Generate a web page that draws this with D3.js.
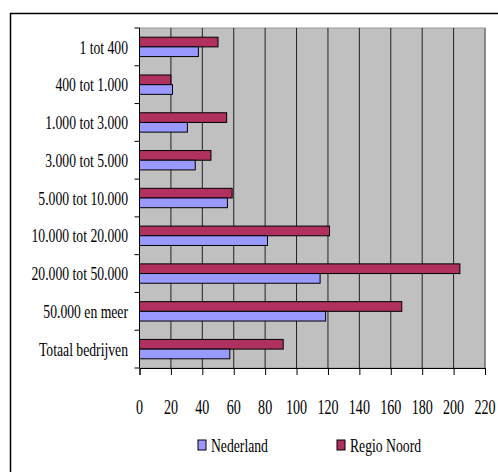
<!DOCTYPE html>
<html><head><meta charset="utf-8">
<script src="https://cdn.jsdelivr.net/npm/d3@7"></script>
<style>body{margin:0;background:#fff;overflow:hidden}svg{display:block}text{font-family:"Liberation Serif","Times New Roman",serif;fill:#000}</style>
</head><body>
<script>
const categories = ["1 tot 400","400 tot 1.000","1.000 tot 3.000","3.000 tot 5.000","5.000 tot 10.000","10.000 tot 20.000","20.000 tot 50.000","50.000 en meer","Totaal bedrijven"];
const seriesNames = ["Regio Noord","Nederland"];
const regioNoord = [50,20,55.5,45.5,59,121,204,167,91.5];
const nederland = [37.5,21,30.5,35.5,56,81.5,115,118.5,57.5];
const xTicks = [0,20,40,60,80,100,120,140,160,180,200,220];
const colors = {"Nederland":"#9999FF","Regio Noord":"#B03060"};

const W=498,H=472;
const svg=d3.select("body").append("svg").attr("width",W).attr("height",H);
// outer frame
svg.append("rect").attr("x",10.5).attr("y",13.5).attr("width",W).attr("height",H).attr("fill","#fff").attr("stroke","#000").attr("stroke-width",1.5);

const L=139.5,R=485,T=28,B=368;
const x=d3.scaleLinear().domain([0,220]).range([L,R]);
const y=d3.scaleBand().domain(categories).range([T,B]);
const sub=d3.scaleBand().domain(seriesNames).range([0,y.bandwidth()]).paddingOuter(0.95).paddingInner(0);

svg.append("rect").attr("x",L).attr("y",T).attr("width",R-L).attr("height",B-T).attr("fill","#C0C0C0").attr("stroke","#999").attr("stroke-width",1);
// gridlines
svg.append("g").selectAll("line").data(xTicks.slice(1,-1)).join("line")
  .attr("x1",d=>x(d)).attr("x2",d=>x(d)).attr("y1",T).attr("y2",B).attr("stroke","#222").attr("stroke-width",1);
svg.append("line").attr("x1",R).attr("x2",R).attr("y1",T).attr("y2",B).attr("stroke","#777").attr("stroke-width",1.5);

const data=[["Regio Noord",regioNoord],["Nederland",nederland]];
data.forEach(([name,vals])=>{
  svg.append("g").selectAll("rect").data(categories).join("rect")
    .attr("x",L).attr("y",(c)=>y(c)+sub(name))
    .attr("width",(c,i)=>x(vals[i])-L).attr("height",sub.bandwidth())
    .attr("fill",colors[name]).attr("stroke","#000").attr("stroke-width",1);
});

const xAxis=d3.axisBottom(x).tickValues(xTicks).tickSize(7).tickFormat("");
const gx=svg.append("g").attr("transform",`translate(0,${B})`).call(xAxis);
gx.select(".domain").attr("stroke","#000");
gx.selectAll(".tick line").attr("stroke","#000");

const yBounds=d3.range(categories.length+1).map(i=>T+i*y.step());
svg.append("line").attr("x1",L).attr("x2",L).attr("y1",T).attr("y2",B).attr("stroke","#000");
svg.append("g").selectAll("line").data(yBounds).join("line")
  .attr("x1",L-5).attr("x2",L).attr("y1",d=>d).attr("y2",d=>d).attr("stroke","#000");

function label(g,txt,px,py,anchor,fs,sx){
  g.append("text").attr("transform",`translate(${px},${py}) scale(${sx},1)`)
   .attr("text-anchor",anchor).attr("font-size",fs).attr("dy","0.35em").text(txt);
}
const gl=svg.append("g");
categories.forEach(c=>label(gl,c,128,y(c)+y.bandwidth()/2,"end",19,0.72));
xTicks.forEach(t=>label(gl,String(t),x(t),406.5,"middle",22,0.64));

// legend
const legend=[["Nederland",198],["Regio Noord",337]];
legend.forEach(([n,lx])=>{
  svg.append("rect").attr("x",lx).attr("y",440).attr("width",8).attr("height",10).attr("fill",colors[n]).attr("stroke","#000").attr("stroke-width",1);
  label(gl,n,lx+13,445,"start",19,0.72);
});
</script>
</body></html>
